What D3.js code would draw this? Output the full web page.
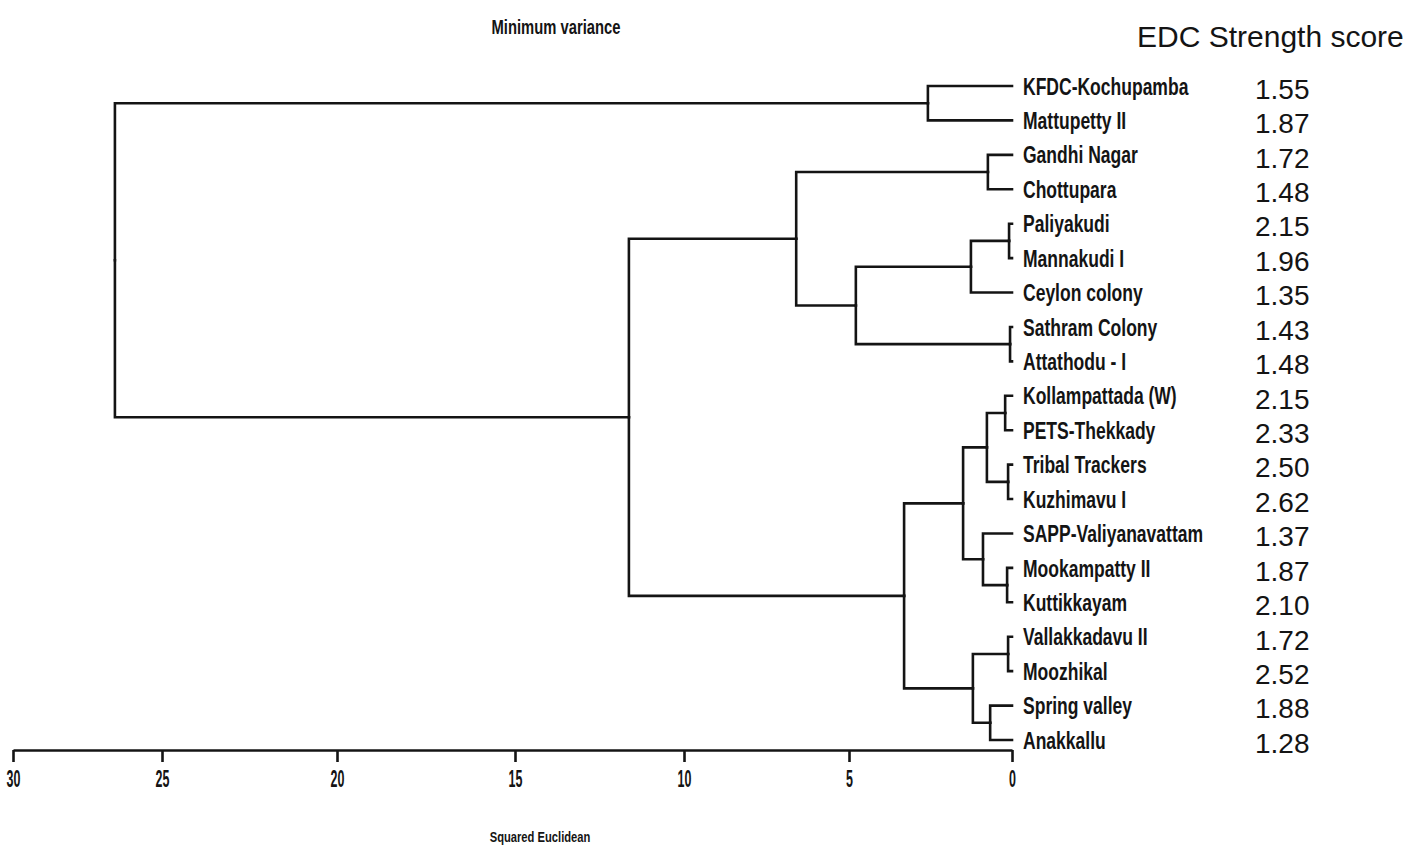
<!DOCTYPE html>
<html>
<head>
<meta charset="utf-8">
<script src="https://cdn.jsdelivr.net/npm/d3@7"></script>
<style>
  html, body { margin: 0; padding: 0; background: #fff; }
  svg { display: block; }
  .narrow { font-family: "Liberation Sans", Arial, sans-serif; font-weight: bold; }
  .score { font-family: "Liberation Sans", Arial, sans-serif; }
</style>
</head>
<body>
<svg id="chart" width="1419" height="847"></svg>
<script>
// Sites in dendrogram order (top to bottom)
const sites = [
  "KFDC-Kochupamba", "Mattupetty II", "Gandhi Nagar", "Chottupara",
  "Paliyakudi", "Mannakudi I", "Ceylon colony", "Sathram Colony",
  "Attathodu - I", "Kollampattada (W)", "PETS-Thekkady", "Tribal Trackers",
  "Kuzhimavu I", "SAPP-Valiyanavattam", "Mookampatty II", "Kuttikkayam",
  "Vallakkadavu II", "Moozhikal", "Spring valley", "Anakkallu"
];

// EDC strength score for each site, same order
const scores = [1.55, 1.87, 1.72, 1.48, 2.15, 1.96, 1.35, 1.43, 1.48, 2.15,
                2.33, 2.50, 2.62, 1.37, 1.87, 2.10, 1.72, 2.52, 1.88, 1.28];

// Agglomeration schedule: [first member, second member, squared Euclidean distance]
// A member is a site name or the index of an earlier merge.
const merges = [
  ["Sathram Colony", "Attathodu - I", 0.06],        // 0
  ["Paliyakudi", "Mannakudi I", 0.09],              // 1
  ["Tribal Trackers", "Kuzhimavu I", 0.12],         // 2
  ["Vallakkadavu II", "Moozhikal", 0.12],           // 3
  ["Mookampatty II", "Kuttikkayam", 0.15],          // 4
  ["Kollampattada (W)", "PETS-Thekkady", 0.21],     // 5
  ["Spring valley", "Anakkallu", 0.67],             // 6
  ["Gandhi Nagar", "Chottupara", 0.74],             // 7
  [5, 2, 0.77],                                     // 8
  ["SAPP-Valiyanavattam", 4, 0.89],                 // 9
  [3, 6, 1.20],                                     // 10
  [1, "Ceylon colony", 1.26],                       // 11
  [8, 9, 1.50],                                     // 12
  ["KFDC-Kochupamba", "Mattupetty II", 2.58],       // 13
  [12, 10, 3.31],                                   // 14
  [11, 0, 4.79],                                    // 15
  [7, 15, 6.60],                                    // 16
  [16, 14, 11.63],                                  // 17
  [13, 17, 26.58]                                   // 18
];

// Distance axis ticks
const axisTicks = [30, 25, 20, 15, 10, 5, 0];

const title = "Minimum variance";
const axisTitle = "Squared Euclidean";
const scoreTitle = "EDC Strength score";

// ---- build the tree from the schedule ----
const built = [];
function node(m) {
  return typeof m === "number" ? built[m] : { name: m, height: 0 };
}
merges.forEach(([a, b, h]) => built.push({ height: h, children: [node(a), node(b)] }));
const root = d3.hierarchy(built[built.length - 1]);

const svg = d3.select("#chart");
const ink = "#141414";

// distance scale: axis runs from 30 (left) to 0 (right)
const x = d3.scaleLinear()
  .domain(axisTicks)
  .range([13, 162, 337, 515, 684, 849, 1012]);

const y = d3.scalePoint().domain(sites).range([86, 740]);

// leaves get their row, internal nodes sit midway between their children
root.eachAfter(n => {
  n.px = x(n.data.height);
  n.py = n.children ? (n.children[0].py + n.children[1].py) / 2 : y(n.data.name);
});

const g = svg.append("g")
  .attr("fill", "none")
  .attr("stroke", ink)
  .attr("stroke-width", 2.6)
  .attr("stroke-linecap", "square");

// elbow links: vertical at parent distance, horizontal to the child
g.selectAll("path.link")
  .data(root.links())
  .join("path")
  .attr("class", "link")
  .attr("d", l => `M${l.source.px},${l.source.py}V${l.target.py}H${l.target.px}`);

// condensed bold sans text
function narrowText(sel, size) {
  sel.attr("class", "narrow")
    .attr("font-size", size)
    .attr("fill", ink);
  return sel;
}

// site labels
svg.append("g")
  .selectAll("text")
  .data(root.leaves())
  .join("text")
  .call(narrowText, 24)
  .attr("transform", d => `translate(1023,${d.py}) scale(0.73,1)`)
  .attr("dy", "0.36em")
  .text(d => d.data.name);

// score column
svg.append("text")
  .attr("class", "score")
  .attr("x", 1137).attr("y", 47)
  .attr("font-size", 30)
  .attr("fill", ink)
  .text(scoreTitle);

svg.append("g")
  .selectAll("text")
  .data(sites)
  .join("text")
  .attr("class", "score")
  .attr("x", 1255)
  .attr("y", d => y(d) + 3)
  .attr("dy", "0.35em")
  .attr("font-size", 28)
  .attr("fill", ink)
  .text((d, i) => scores[i].toFixed(2));

// distance axis
const axis = d3.axisBottom(x)
  .tickValues(axisTicks)
  .tickSize(12)
  .tickSizeOuter(0)
  .tickFormat(d3.format("d"));

const ax = svg.append("g")
  .attr("transform", "translate(0,750)")
  .call(axis);
ax.select(".domain").attr("stroke", ink).attr("stroke-width", 2.6);
ax.selectAll(".tick line").attr("stroke", ink).attr("stroke-width", 2.6);
ax.selectAll(".tick text")
  .attr("class", "narrow")
  .attr("font-size", 24)
  .attr("fill", ink)
  .attr("y", 0)
  .attr("dy", 0)
  .attr("transform", "translate(0,37) scale(0.52,1)");

svg.append("text")
  .call(narrowText, 14)
  .attr("transform", "translate(540,842) scale(0.8,1)")
  .attr("text-anchor", "middle")
  .text(axisTitle);

svg.append("text")
  .call(narrowText, 20)
  .attr("transform", "translate(556,34) scale(0.74,1)")
  .attr("text-anchor", "middle")
  .text(title);
</script>
</body>
</html>
